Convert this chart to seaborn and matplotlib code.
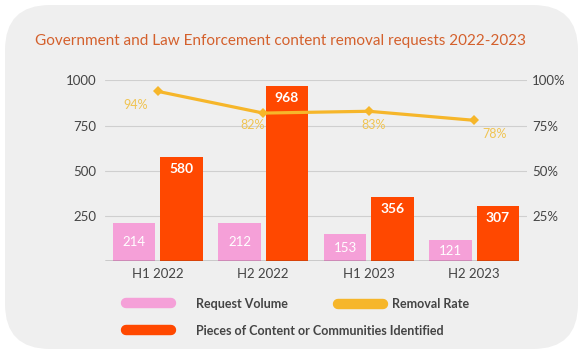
import numpy as np
import pandas as pd
import matplotlib.pyplot as plt
import seaborn as sns
from matplotlib.patches import FancyBboxPatch
from matplotlib.lines import Line2D

# data
periods = ["H1 2022", "H2 2022", "H1 2023", "H2 2023"]
request_volume = [214, 212, 153, 121]
pieces_identified = [580, 968, 356, 307]
removal_rate = [94, 82, 83, 78]
left_ticks = [250, 500, 750, 1000]
right_ticks = [25, 50, 75, 100]

PINK = "#f5a0d8"
ORANGE = "#ff4800"
YELLOW = "#f6b62a"
LABEL_YELLOW = "#f0c452"
TEXT = "#444444"

sns.set_theme(style="white")
plt.rcParams['font.family'] = ['Lato', 'DejaVu Sans']

fig = plt.figure(figsize=(5.82, 3.54), dpi=100)
fig.patch.set_facecolor("white")

# rounded grey card behind everything
panel = FancyBboxPatch((0.05, 0.05), 5.73, 3.44,
                       boxstyle="round,pad=0,rounding_size=0.45",
                       transform=fig.dpi_scale_trans,
                       facecolor="#efefef", edgecolor="none", zorder=-5)
fig.patches.append(panel)

fig.text(35 / 582, 0.884, "Government and Law Enforcement content removal requests 2022-2023",
         ha="left", va="center", color="#d4602c", fontsize=11)

ax = fig.add_axes([0.1804, 0.2613, 0.7251, 0.5113])
ax.set_facecolor("none")

df = pd.DataFrame({
    "period": periods * 2,
    "series": ["Request Volume"] * len(periods) + ["Pieces of Content or Communities Identified"] * len(periods),
    "value": request_volume + pieces_identified,
})
sns.barplot(data=df, x="period", y="value", hue="series", palette=[PINK, ORANGE],
            width=0.9, gap=0.11, saturation=1, legend=False, linewidth=0,
            ax=ax, zorder=3)

ax.bar_label(ax.containers[0], label_type="center", color="white", fontsize=9.5)
ax.bar_label(ax.containers[1], label_type="edge", padding=-13, color="white",
             fontsize=10, fontweight="bold")

ax.set_xlim(-0.5, 3.5)
ax.set_ylim(0, 1000)
ax.set_yticks(left_ticks)
ax.set_xlabel("")
ax.set_ylabel("")
ax.grid(axis="y", color="#cfcfcf", linewidth=0.8, zorder=0)
ax.set_axisbelow(True)
for s in ax.spines.values():
    s.set_visible(False)
ax.axhline(0, xmin=0, xmax=0.979, color="#333333", linewidth=1, zorder=4)
ax.tick_params(axis="y", length=0, pad=6, labelsize=9.5, labelcolor=TEXT)
ax.tick_params(axis="x", length=0, pad=4.5, labelsize=9.5, labelcolor=TEXT)

ax2 = ax.twinx()
x_pos = np.arange(len(periods))
sns.lineplot(x=x_pos, y=removal_rate, ax=ax2, color=YELLOW, linewidth=2.3,
             marker="D", markersize=5.5, markeredgewidth=0, zorder=5)
ax2.set_ylim(0, 100)
ax2.set_yticks(right_ticks)
ax2.set_yticklabels([f"{t}%" for t in right_ticks])
ax2.tick_params(axis="y", length=0, pad=3.6, labelsize=9.5, labelcolor=TEXT)
for s in ax2.spines.values():
    s.set_visible(False)

label_offsets = [(-16, -9.5), (-8, -8.6), (3.6, -10), (14.4, -10)]
for xi, r, off in zip(x_pos, removal_rate, label_offsets):
    ax2.annotate(f"{r}%", (xi, r), xytext=off, textcoords="offset points",
                 ha="center", va="center", color=LABEL_YELLOW, fontsize=9)

def pill(color):
    return Line2D([], [], color=color, linewidth=7.5, solid_capstyle="round")

leg1 = fig.legend([pill(PINK), pill(ORANGE)],
                  ["Request Volume", "Pieces of Content or Communities Identified"],
                  loc="center left", bbox_to_anchor=(126 / 582, 0.104),
                  frameon=False, borderpad=0, borderaxespad=0, handlelength=3.6,
                  handletextpad=2.0, labelspacing=1.2,
                  prop={"size": 9, "weight": "bold"}, labelcolor=TEXT)
leg2 = fig.legend([pill(YELLOW)], ["Removal Rate"],
                  loc="center left", bbox_to_anchor=(338 / 582, 0.141),
                  frameon=False, borderpad=0, borderaxespad=0, handlelength=3.6,
                  handletextpad=0.7, prop={"size": 9, "weight": "bold"}, labelcolor=TEXT)

fig.savefig("out.png", dpi=100)
